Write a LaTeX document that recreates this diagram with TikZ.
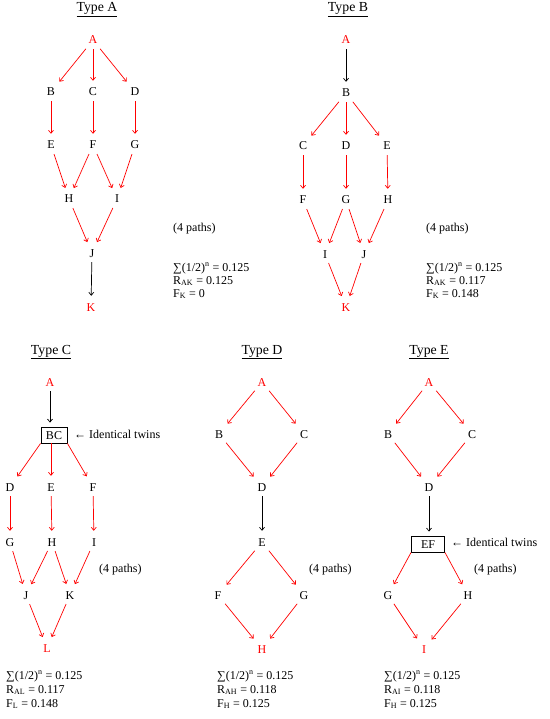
\documentclass[tikz,border=0pt]{standalone}
\usepackage{fontspec}
\setmainfont{Liberation Serif}
\usetikzlibrary{arrows.meta}
\begin{document}
\begin{tikzpicture}[x=1pt,y=-1pt,
  every node/.style={font=\fontsize{12}{13.5}\selectfont},
  lt/.style={inner sep=3pt, text height=8pt, text depth=0pt},
  twinbox/.style={draw, line width=0.9pt, inner sep=0pt, text height=8pt, text depth=0pt, minimum height=16pt},
  ttl/.style={anchor=base, inner sep=0pt, font=\fontsize{13.8}{15}\selectfont},
  stat/.style={anchor=base west, inner sep=0pt},
  ra/.style={draw=red, line width=0.7pt, -{Straight Barb[length=3pt,width=5pt]}, shorten <=2pt, shorten >=4pt},
  ba/.style={draw=black, line width=0.7pt, -{Straight Barb[length=3pt,width=5pt]}, shorten <=2pt, shorten >=4pt}
]
\useasboundingbox (0,0) rectangle (549,719);

% ---------------- Type A ----------------
\node[ttl] (tA) at (97,12) {\underline{Type A}};
\node[lt,red] (aA) at (93,40) {A};
\node[lt] (aB) at (51,92) {B};
\node[lt] (aC) at (93,92) {C};
\node[lt] (aD) at (135,92) {D};
\node[lt] (aE) at (51,145) {E};
\node[lt] (aF) at (93,145) {F};
\node[lt] (aG) at (135,145) {G};
\node[lt] (aH) at (69,199) {H};
\node[lt] (aI) at (117,199) {I};
\node[lt] (aJ) at (92,253) {J};
\node[lt,red] (aK) at (91,307) {K};
\draw[ra] (aA) -- (aB);
\draw[ra] (aA) -- (aC);
\draw[ra] (aA) -- (aD);
\draw[ra] (aB) -- (aE);
\draw[ra] (aC) -- (aF);
\draw[ra] (aD) -- (aG);
\draw[ra] (aE) -- (aH);
\draw[ra] (aF) -- (aH);
\draw[ra] (aF) -- (aI);
\draw[ra] (aG) -- (aI);
\draw[ra] (aH) -- (aJ);
\draw[ra] (aI) -- (aJ);
\draw[ba] (aJ) -- (aK);
\node[stat] (pA) at (173,231) {(4 paths)};
\node[stat] (sA1) at (173,271) {∑(1/2)\textsuperscript{n} = 0.125};
\node[stat] (sA2) at (173,284) {R\textsubscript{AK} = 0.125};
\node[stat] (sA3) at (173,297) {F\textsubscript{K} = 0};

% ---------------- Type B ----------------
\node[ttl] (tB) at (348,12) {\underline{Type B}};
\node[lt,red] (bA) at (346,40) {A};
\node[lt] (bB) at (346,93) {B};
\node[lt] (bC) at (303,146) {C};
\node[lt] (bD) at (346,146) {D};
\node[lt] (bE) at (387,146) {E};
\node[lt] (bF) at (303,200) {F};
\node[lt] (bG) at (346,200) {G};
\node[lt] (bH) at (388,200) {H};
\node[lt] (bI) at (325,254) {I};
\node[lt] (bJ) at (364,254) {J};
\node[lt,red] (bK) at (346,307) {K};
\draw[ba] (bA) -- (bB);
\draw[ra] (bB) -- (bC);
\draw[ra] (bB) -- (bD);
\draw[ra] (bB) -- (bE);
\draw[ra] (bC) -- (bF);
\draw[ra] (bD) -- (bG);
\draw[ra] (bE) -- (bH);
\draw[ra] (bF) -- (bI);
\draw[ra] (bG) -- (bI);
\draw[ra] (bG) -- (bJ);
\draw[ra] (bH) -- (bJ);
\draw[ra] (bI) -- (bK);
\draw[ra] (bJ) -- (bK);
\node[stat] (pB) at (426,231) {(4 paths)};
\node[stat] (sB1) at (426,271) {∑(1/2)\textsuperscript{n} = 0.125};
\node[stat] (sB2) at (426,284) {R\textsubscript{AK} = 0.117};
\node[stat] (sB3) at (426,297) {F\textsubscript{K} = 0.148};

% ---------------- Type C ----------------
\node[ttl] (tC) at (51,354) {\underline{Type C}};
\node[lt,red] (cA) at (50,382) {A};
\node[twinbox, minimum width=26pt] (cBC) at (54,435) {BC};
\node[anchor=west, inner sep=0pt] (cTw) at (74,434) {← Identical twins};
\node[lt] (cD) at (10,487) {D};
\node[lt] (cE) at (51,487) {E};
\node[lt] (cF) at (93,487) {F};
\node[lt] (cG) at (10,542) {G};
\node[lt] (cH) at (52,542) {H};
\node[lt] (cI) at (94,542) {I};
\node[lt] (cJ) at (26,595) {J};
\node[lt] (cK) at (70,595) {K};
\node[lt,red] (cL) at (47,648) {L};
\draw[ba] (cA) -- (cA |- cBC.north);
\draw[ra, shorten <=0pt] (cBC.south west) -- (cD);
\draw[ra, shorten <=0pt] (cBC.south -| cE) -- (cE);
\draw[ra, shorten <=0pt] (cBC.south east) -- (cF);
\draw[ra] (cD) -- (cG);
\draw[ra] (cE) -- (cH);
\draw[ra] (cF) -- (cI);
\draw[ra] (cG) -- (cJ);
\draw[ra] (cH) -- (cJ);
\draw[ra] (cH) -- (cK);
\draw[ra] (cI) -- (cK);
\draw[ra] (cJ) -- (cL);
\draw[ra] (cK) -- (cL);
\node[stat] (pC) at (99,572) {(4 paths)};
\node[stat] (sC1) at (6,679) {∑(1/2)\textsuperscript{n} = 0.125};
\node[stat] (sC2) at (6,693) {R\textsubscript{AL} = 0.117};
\node[stat] (sC3) at (6,707) {F\textsubscript{L} = 0.148};

% ---------------- Type D ----------------
\node[ttl] (tD) at (262,354) {\underline{Type D}};
\node[lt,red] (dA) at (262,382) {A};
\node[lt] (dB) at (219,434) {B};
\node[lt] (dC) at (304,434) {C};
\node[lt] (dD) at (262,487) {D};
\node[lt] (dE) at (262,542) {E};
\node[lt] (dF) at (218,595) {F};
\node[lt] (dG) at (304,595) {G};
\node[lt,red] (dH) at (262,649) {H};
\draw[ra] (dA) -- (dB);
\draw[ra] (dA) -- (dC);
\draw[ra] (dB) -- (dD);
\draw[ra] (dC) -- (dD);
\draw[ba] (dD) -- (dE);
\draw[ra] (dE) -- (dF);
\draw[ra] (dE) -- (dG);
\draw[ra] (dF) -- (dH);
\draw[ra] (dG) -- (dH);
\node[stat] (pD) at (309,572) {(4 paths)};
\node[stat] (sD1) at (217,679) {∑(1/2)\textsuperscript{n} = 0.125};
\node[stat] (sD2) at (217,693) {R\textsubscript{AH} = 0.118};
\node[stat] (sD3) at (217,707) {F\textsubscript{H} = 0.125};

% ---------------- Type E ----------------
\node[ttl] (tE) at (429,354) {\underline{Type E}};
\node[lt,red] (eA) at (429,382) {A};
\node[lt] (eB) at (388,434) {B};
\node[lt] (eC) at (472,434) {C};
\node[lt] (eD) at (429,487) {D};
\node[twinbox, minimum width=33pt] (eEF) at (428,544) {EF};
\node[anchor=west, inner sep=0pt] (eTw) at (451,542) {← Identical twins};
\node[lt] (eG) at (388,595) {G};
\node[lt] (eH) at (468,595) {H};
\node[lt,red] (eI) at (424,649) {I};
\draw[ra] (eA) -- (eB);
\draw[ra] (eA) -- (eC);
\draw[ra] (eB) -- (eD);
\draw[ra] (eC) -- (eD);
\draw[ba] (eD) -- (eD |- eEF.north);
\draw[ra, shorten <=0pt] (eEF.south west) -- (eG);
\draw[ra, shorten <=0pt] (eEF.south east) -- (eH);
\draw[ra] (eG) -- (eI);
\draw[ra] (eH) -- (eI);
\node[stat] (pE) at (474,572) {(4 paths)};
\node[stat] (sE1) at (384,679) {∑(1/2)\textsuperscript{n} = 0.125};
\node[stat] (sE2) at (384,693) {R\textsubscript{AI} = 0.118};
\node[stat] (sE3) at (384,707) {F\textsubscript{H} = 0.125};
\end{tikzpicture}
\end{document}
